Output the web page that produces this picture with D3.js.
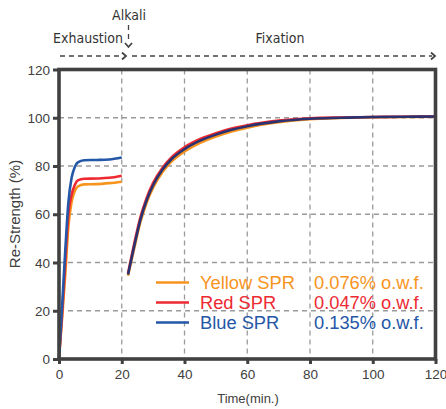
<!DOCTYPE html>
<html>
<head>
<meta charset="utf-8">
<script src="https://cdn.jsdelivr.net/npm/d3@7"></script>
<style>
  body { margin: 0; background: #fff; }
  svg { display: block; }
  text { font-family: "Liberation Sans", Arial, sans-serif; }
</style>
</head>
<body>
<svg id="chart" width="446" height="409"></svg>
<script>
// ---- Data ----
const exhTime   = [0, 1, 2, 3, 4, 5, 6, 8, 12, 16, 20];
const exhYellow = [0, 17, 35, 55, 65, 69.5, 71.5, 72.4, 72.5, 72.9, 73.5];
const exhRed    = [0, 19, 40, 60, 68, 72, 74, 74.7, 74.8, 75.1, 76];
const exhBlue   = [0, 22, 45, 65, 75, 79.5, 81.5, 82.4, 82.5, 82.7, 83.5];

const fixTime   = [22, 24, 26, 28, 30, 33, 36, 40, 45, 50, 55, 60, 70, 80, 90, 100, 110, 120];
const fixYellow = [34.5, 46, 57, 65, 71, 77.5, 82, 86, 89.6, 92.2, 94.3, 95.9, 98.1, 99.4, 99.9, 100.2, 100.3, 100.4];
const fixRed    = [35.5, 48, 59, 67, 73, 79.3, 83.8, 87.8, 91.2, 93.6, 95.5, 96.9, 98.8, 99.8, 100.1, 100.3, 100.4, 100.5];
const fixBlue   = [35, 47, 58, 66, 72, 78.5, 83, 87, 90.5, 93, 95, 96.5, 98.5, 99.6, 100, 100.3, 100.4, 100.5];

const xTicks = [0, 20, 40, 60, 80, 100, 120];
const yTicks = [0, 20, 40, 60, 80, 100, 120];

const seriesNames = ["Yellow SPR", "Red SPR", "Blue SPR"];
const seriesConc  = ["0.076% o.w.f.", "0.047% o.w.f.", "0.135% o.w.f."];
const colors      = ["#f7941d", "#ed2a32", "#2457a7"];
const fixColors   = ["#f7941d", "#ed2a32", "#2b3272"];

const phaseLabels = ["Exhaustion", "Alkali", "Fixation"];
const xTitle = "Time(min.)";
const yTitle = "Re-Strength (%)";

// ---- Layout ----
const svg = d3.select("#chart");
const x = d3.scaleLinear().domain([0, 120]).range([59, 435.5]);
const y = d3.scaleLinear().domain([0, 120]).range([359, 69.5]);
const frameColor = "#414141";

// grid
const grid = svg.append("g");
grid.selectAll("line.gx").data(xTicks.slice(1, -1)).enter().append("line")
  .attr("x1", d => x(d)).attr("x2", d => x(d))
  .attr("y1", y(120)).attr("y2", y(0))
  .attr("stroke", "#9a9a9a").attr("stroke-width", 1.3).attr("stroke-dasharray", "5,4");
grid.selectAll("line.gy").data(yTicks.slice(1, -1)).enter().append("line")
  .attr("y1", d => y(d)).attr("y2", d => y(d))
  .attr("x1", x(0)).attr("x2", x(120))
  .attr("stroke", "#9a9a9a").attr("stroke-width", 1.3).attr("stroke-dasharray", "5,4");

// lines
const line = d3.line().x(d => x(d[0])).y(d => y(d[1])).curve(d3.curveMonotoneX);
const exhSeries = [exhYellow, exhRed, exhBlue];
const fixSeries = [fixYellow, fixRed, fixBlue];
exhSeries.forEach((s, i) => {
  svg.append("path").datum(exhTime.map((t, j) => [t, s[j]]))
    .attr("d", line).attr("fill", "none")
    .attr("stroke", colors[i]).attr("stroke-width", 2.6);
});
fixSeries.forEach((s, i) => {
  svg.append("path").datum(fixTime.map((t, j) => [t, s[j]]))
    .attr("d", line).attr("fill", "none")
    .attr("stroke", fixColors[i]).attr("stroke-width", 2.6);
});

// axes
const xAxis = d3.axisBottom(x).tickValues(xTicks).tickSize(5).tickPadding(5);
const yAxis = d3.axisLeft(y).tickValues(yTicks).tickSize(6).tickPadding(3);
const gx = svg.append("g").attr("transform", `translate(0,${y(0)})`).call(xAxis);
const gy = svg.append("g").attr("transform", `translate(${x(0)},0)`).call(yAxis);
[gx, gy].forEach(g => {
  g.select(".domain").remove();
  g.selectAll(".tick line").attr("stroke", frameColor).attr("stroke-width", 3);
  g.selectAll(".tick text").attr("fill", "#404040").attr("font-size", 13.5)
    .style("font-family", "'Liberation Sans', Arial, sans-serif");
});
gy.selectAll(".tick text").attr("dy", "0.35em");

// frame
svg.append("rect")
  .attr("x", x(0)).attr("y", y(120))
  .attr("width", x(120) - x(0)).attr("height", y(0) - y(120))
  .attr("fill", "none").attr("stroke", frameColor).attr("stroke-width", 3.6);

// axis titles
svg.append("text").attr("x", 248).attr("y", 403).attr("text-anchor", "middle")
  .attr("font-size", 13).attr("fill", "#404040").text(xTitle);
svg.append("text").attr("transform", "translate(20,214) rotate(-90)")
  .attr("text-anchor", "middle").attr("font-size", 15).attr("fill", "#404040").text(yTitle);

// legend
const legend = svg.append("g");
seriesNames.forEach((n, i) => {
  const ly = 282.5 + i * 20;
  legend.append("line").attr("x1", 156).attr("x2", 189).attr("y1", ly).attr("y2", ly)
    .attr("stroke", colors[i]).attr("stroke-width", 2.6);
  legend.append("text").attr("x", 200).attr("y", ly + 6.3).attr("font-size", 18.3)
    .attr("fill", colors[i]).text(n);
  legend.append("text").attr("x", 314).attr("y", ly + 6.3).attr("font-size", 18.3)
    .attr("fill", colors[i]).text(seriesConc[i]);
});

// phase annotations
const ann = svg.append("g");
const annFont = "'Liberation Sans Narrow', 'Arial Narrow', 'DejaVu Sans Condensed', sans-serif";
ann.append("text").attr("x", 88).attr("y", 43).attr("text-anchor", "middle")
  .attr("font-size", 14).attr("fill", "#333").style("font-family", annFont).text(phaseLabels[0]);
ann.append("text").attr("x", 129).attr("y", 20).attr("text-anchor", "middle")
  .attr("font-size", 14).attr("fill", "#333").style("font-family", annFont).text(phaseLabels[1]);
ann.append("text").attr("x", 280).attr("y", 43).attr("text-anchor", "middle")
  .attr("font-size", 14).attr("fill", "#333").style("font-family", annFont).text(phaseLabels[2]);

const dashStyle = sel => sel.attr("stroke", "#444").attr("stroke-width", 1.3)
  .attr("stroke-dasharray", "5,4").attr("fill", "none");
ann.append("line").attr("x1", 60).attr("x2", 121).attr("y1", 56).attr("y2", 56).call(dashStyle);
ann.append("line").attr("x1", 132).attr("x2", 432).attr("y1", 56).attr("y2", 56).call(dashStyle);
ann.append("line").attr("x1", 128.5).attr("x2", 128.5).attr("y1", 25).attr("y2", 43).call(dashStyle);
const chev = sel => sel.attr("stroke", "#444").attr("stroke-width", 1.8).attr("fill", "none");
ann.append("path").attr("d", "M122,52.5 L126,56 L122,59.5").call(chev);
ann.append("path").attr("d", "M431,52.5 L435,56 L431,59.5").call(chev);
ann.append("path").attr("d", "M125,43 L128.5,47 L132,43").call(chev);
</script>
</body>
</html>
